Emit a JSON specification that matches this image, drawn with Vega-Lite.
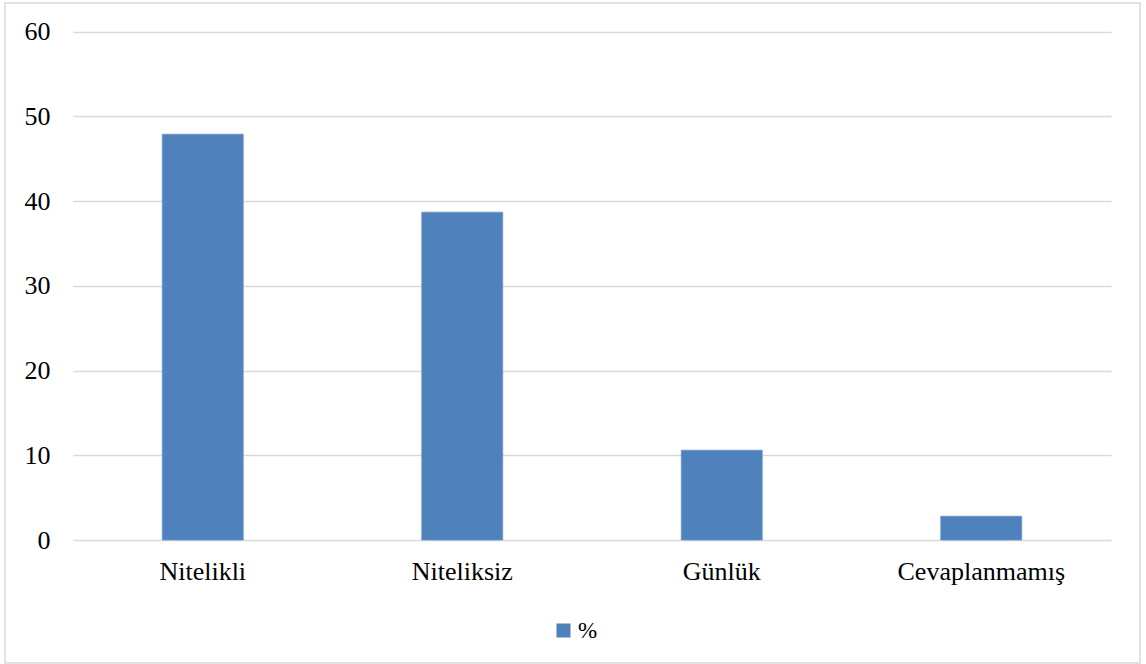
{
  "$schema": "https://vega.github.io/schema/vega-lite/v6.json",
  "width": 1135,
  "height": 660,
  "autosize": "none",
  "padding": {"left": 5, "top": 3, "right": 6, "bottom": 1},
  "background": "#ffffff",
  "config": {
    "view": {"stroke": "#d9d9d9", "strokeWidth": 1.5},
    "font": "Liberation Serif"
  },
  "data": {
    "values": [
      {"kategori": "Nitelikli", "deger": 47.9, "seri": "%"},
      {"kategori": "Niteliksiz", "deger": 38.7, "seri": "%"},
      {"kategori": "Günlük", "deger": 10.6, "seri": "%"},
      {"kategori": "Cevaplanmamış", "deger": 2.8, "seri": "%"}
    ]
  },
  "mark": {"type": "bar", "width": {"band": 0.312}, "stroke": "#6a94c8", "strokeWidth": 0.8},
  "encoding": {
    "x": {
      "field": "kategori",
      "type": "nominal",
      "sort": null,
      "scale": {"range": [68, 1106], "paddingInner": 0, "paddingOuter": 0},
      "axis": {
        "title": null,
        "labelAngle": 0,
        "labelFont": "Liberation Serif",
        "labelFontSize": 26,
        "labelColor": "#000000",
        "labelPadding": 18,
        "ticks": false,
        "domain": false,
        "grid": false,
        "offset": -123
      }
    },
    "y": {
      "field": "deger",
      "type": "quantitative",
      "scale": {"domain": [0, 60], "range": [537, 28.7], "nice": false, "zero": true},
      "axis": {
        "title": null,
        "values": [0, 10, 20, 30, 40, 50, 60],
        "labelFont": "Liberation Serif",
        "labelFontSize": 26,
        "labelColor": "#000000",
        "labelPadding": 0,
        "ticks": false,
        "tickSize": 0,
        "domain": false,
        "grid": true,
        "gridColor": "#d9d9d9",
        "gridWidth": 1.5,
        "offset": -45
      }
    },
    "color": {
      "field": "seri",
      "type": "nominal",
      "scale": {"range": ["#4F81BD"]},
      "legend": {
        "title": null,
        "orient": "none",
        "legendX": 547,
        "legendY": 616,
        "padding": 0,
        "symbolType": "square",
        "symbolSize": 196,
        "symbolStrokeWidth": 0,
        "labelFont": "Liberation Serif",
        "labelFontSize": 23,
        "labelColor": "#000000",
        "labelOffset": 3
      }
    }
  }
}
